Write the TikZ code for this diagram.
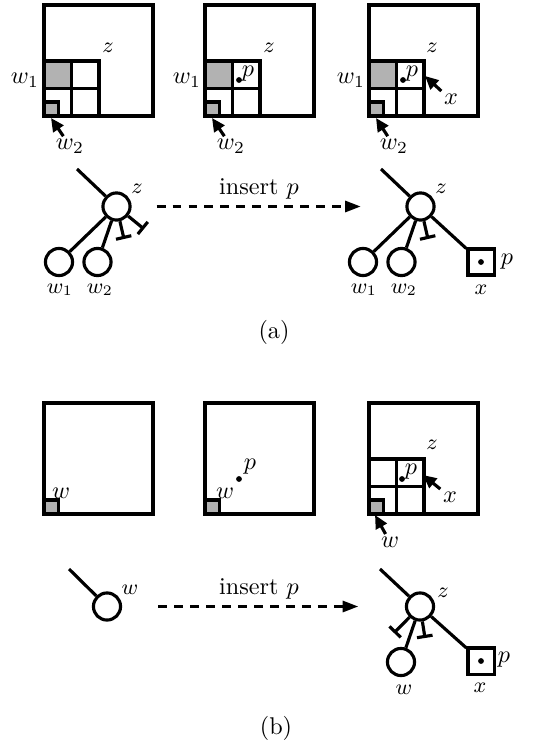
\documentclass[tikz,border=0pt]{standalone}
\usetikzlibrary{arrows.meta}
\begin{document}
\begin{tikzpicture}[x=0.4132pt,y=-0.4132pt,line width=1.3pt,
  cellfill/.style={fill=black!30},
  tnode/.style={circle,draw,minimum size=11.2pt,inner sep=0pt},
  leafbox/.style={rectangle,draw,minimum size=10.8pt,inner sep=0pt},
  lbl/.style={inner sep=0.5pt},
  tlbl/.style={inner sep=0.5pt,font=\small},
  ptr/.style={-{Triangle[length=5.5pt,width=5pt]}},
  nullptr/.style={-{Bar[width=6.5pt]}},
  ptdot/.style={circle,fill,inner sep=0pt,minimum size=2.4pt},
  flowarrow/.style={dash pattern=on 3.7pt off 2.9pt,-{Triangle[length=6.5pt,width=4.5pt]}},
]
\useasboundingbox (0,0) rectangle (537,746);

% ---------- (a) squares ----------
% square a1
\draw (44,5) rectangle (153,116);
\draw[cellfill] (44,61) rectangle (71.5,88.5);
\draw (44,61) rectangle (99,116);
\draw (71.5,61) -- (71.5,116) (44,88.5) -- (99,88.5);
\draw[cellfill] (44,102) rectangle (58.5,116);
\node[tlbl] (za1) at (108,48) {$z$};
\node[lbl] (w1a1) at (25,80) {$w_1$};
\node[lbl] (w2a1) at (70,146) {$w_2$};
\coordinate (t2a1) at (51,118);
\draw[ptr] (w2a1) -- (t2a1);

% square a2
\begin{scope}[shift={(161,0)}]
\draw (44,5) rectangle (153,116);
\draw[cellfill] (44,61) rectangle (71.5,88.5);
\draw (44,61) rectangle (99,116);
\draw (71.5,61) -- (71.5,116) (44,88.5) -- (99,88.5);
\draw[cellfill] (44,102) rectangle (58.5,116);
\node[tlbl] (za2) at (108,48) {$z$};
\node[lbl] (w1a2) at (26,80) {$w_1$};
\node[lbl] (w2a2) at (70,146) {$w_2$};
\coordinate (t2a2) at (51,118);
\draw[ptr] (w2a2) -- (t2a2);
\node[ptdot] (da2) at (78,80) {};
\node[lbl] (pa2) at (87,74) {$p$};
\end{scope}

% square a3
\begin{scope}[shift={(325,0)}]
\draw (44,5) rectangle (153,116);
\draw[cellfill] (44,61) rectangle (71.5,88.5);
\draw (44,61) rectangle (99,116);
\draw (71.5,61) -- (71.5,116) (44,88.5) -- (99,88.5);
\draw[cellfill] (44,102) rectangle (58.5,116);
\node[tlbl] (za3) at (107,48) {$z$};
\node[lbl] (w1a3) at (26,80) {$w_1$};
\node[lbl] (w2a3) at (69,146) {$w_2$};
\coordinate (t2a3) at (51,118);
\draw[ptr] (w2a3) -- (t2a3);
\node[ptdot] (da3) at (78,80) {};
\node[lbl] (pa3) at (87,74) {$p$};
\node[lbl] (xa3) at (126,99) {$x$};
\coordinate (txa3) at (100,76);
\draw[ptr] (xa3.north west) -- (txa3);
\end{scope}

% ---------- (a) trees ----------
\node[tnode] (zaL) at (116.5,206.5) {};
\coordinate (paL) at (77,169);
\draw (paL) -- (zaL);
\node[tnode] (w1aL) at (59,262) {};
\node[tnode] (w2aL) at (97.5,262) {};
\draw (zaL) -- (w1aL);
\draw (zaL) -- (w2aL);
\coordinate (n1aL) at (124,239);
\coordinate (n2aL) at (144,229);
\draw[nullptr] (zaL) -- (n1aL);
\draw[nullptr] (zaL) -- (n2aL);
\node[tlbl] (lzaL) at (137,189) {$z$};
\node[tlbl] (lw1aL) at (60,290) {$w_1$};
\node[tlbl] (lw2aL) at (100,290) {$w_2$};

\node[tnode] (zaR) at (420.5,206.5) {};
\coordinate (paR) at (381,169);
\draw (paR) -- (zaR);
\node[tnode] (w1aR) at (363,262) {};
\node[tnode] (w2aR) at (401.5,262) {};
\draw (zaR) -- (w1aR);
\draw (zaR) -- (w2aR);
\coordinate (n1aR) at (428,239);
\draw[nullptr] (zaR) -- (n1aR);
\node[leafbox] (xaR) at (481,262) {};
\node[ptdot] (dxaR) at (481,262) {};
\draw (zaR) -- (xaR);
\node[tlbl] (lzaR) at (441,189) {$z$};
\node[tlbl] (lw1aR) at (364,290) {$w_1$};
\node[tlbl] (lw2aR) at (404,290) {$w_2$};
\node[tlbl] (lxaR) at (481,290) {$x$};
\node[lbl] (lpaR) at (507,262) {$p$};

\draw[flowarrow,shorten <=10.3pt,shorten >=18.4pt] (zaL) -- (zaR);
\node (insa) at (259,189) {insert $p$};

\node (capa) at (274,332) {(a)};

% ---------- (b) squares ----------
\begin{scope}[shift={(0,398)}]
\draw (44,5) rectangle (153,116);
\draw[cellfill] (44,102) rectangle (58.5,116);
\node[lbl] (wb1) at (61,95) {$w$};
\end{scope}

\begin{scope}[shift={(161,398)}]
\draw (44,5) rectangle (153,116);
\draw[cellfill] (44,102) rectangle (58.5,116);
\node[lbl] (wb2) at (64,95) {$w$};
\node[ptdot] (db2) at (78,81) {};
\node[lbl] (pb2) at (89,69) {$p$};
\end{scope}

\begin{scope}[shift={(325,398)}]
\draw (44,5) rectangle (153,116);
\draw (44,61) rectangle (99,116);
\draw (71.5,61) -- (71.5,116) (44,88.5) -- (99,88.5);
\draw[cellfill] (44,102) rectangle (58.5,116);
\node[tlbl] (zb3) at (107,47) {$z$};
\node[ptdot] (db3) at (77,81) {};
\node[lbl] (pb3) at (86,74) {$p$};
\node[lbl] (xb3) at (125,99) {$x$};
\coordinate (txb3) at (98,77);
\draw[ptr] (xb3.north west) -- (txb3);
\node[lbl] (wb3) at (65,144) {$w$};
\coordinate (twb3) at (50,117);
\draw[ptr] (wb3) -- (twb3);
\end{scope}

% ---------- (b) trees ----------
\node[tnode] (wbL) at (107,606.5) {};
\coordinate (pbL) at (69,569);
\draw (pbL) -- (wbL);
\node[tlbl] (lwbL) at (130,590) {$w$};

\node[tnode] (zbR) at (420,606.5) {};
\coordinate (pbR) at (380,569);
\draw (pbR) -- (zbR);
\coordinate (n1bR) at (394,633);
\coordinate (n2bR) at (425,638);
\draw[nullptr] (zbR) -- (n1bR);
\draw[nullptr] (zbR) -- (n2bR);
\node[tnode] (wbR) at (401,662) {};
\draw (zbR) -- (wbR);
\node[leafbox] (xbR) at (481,661) {};
\node[ptdot] (dxbR) at (481,661) {};
\draw (zbR) -- (xbR);
\node[tlbl] (lzbR) at (443,593) {$z$};
\node[tlbl] (lwbR) at (404,690) {$w$};
\node[tlbl] (lxbR) at (480,688) {$x$};
\node[lbl] (lpbR) at (504,660) {$p$};

\draw[flowarrow,shorten <=14.9pt,shorten >=19.2pt] (wbL) -- (zbR);
\node (insb) at (259,589) {insert $p$};

\node (capb) at (276,728) {(b)};
\end{tikzpicture}
\end{document}
